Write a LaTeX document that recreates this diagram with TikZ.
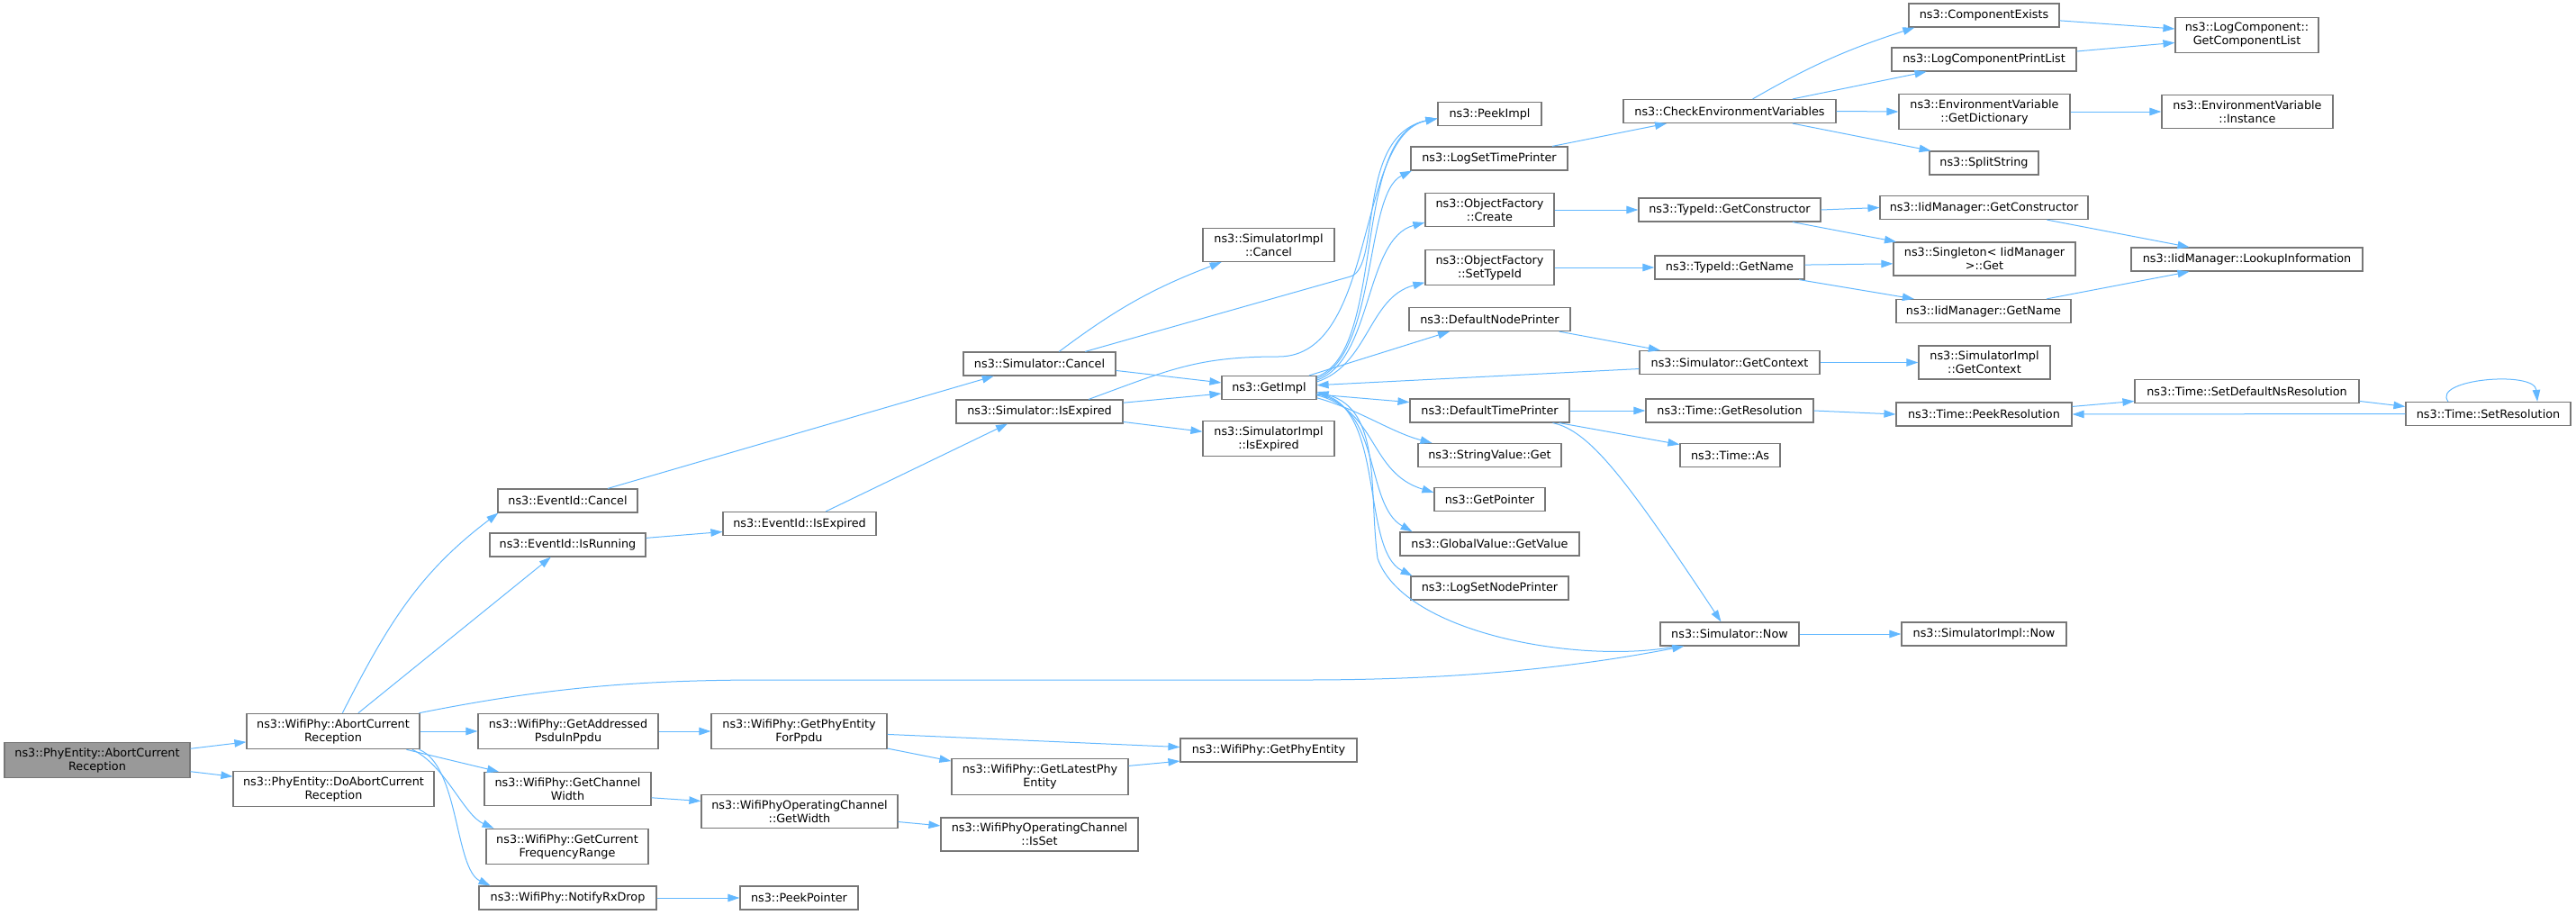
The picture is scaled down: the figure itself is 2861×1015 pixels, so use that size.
\documentclass[tikz,border=0pt]{standalone}
\usepackage{fontspec}
\setmainfont{DejaVu Sans}
\usetikzlibrary{arrows.meta}
\definecolor{edgeblue}{HTML}{63B8FF}
\definecolor{boxgrey}{HTML}{777777}
\definecolor{rootgrey}{HTML}{999999}

\begin{document}
\begin{tikzpicture}[
    x=1pt, y=-1pt,
    fn/.style={draw=boxgrey, line width=1.2pt, fill=white, align=center,
        font=\fontsize{12.8}{15}\selectfont, inner xsep=5pt, inner ysep=6pt,
        minimum height=26pt},
    root/.style={fn, fill=rootgrey},
    edge/.style={draw=edgeblue, line width=1pt, -{Triangle[length=13pt,width=8.5pt]}}
]
    \useasboundingbox (0,0) rectangle (2861,1015);

    \node[root, minimum width=206pt] (root) at (108,844) {ns3::PhyEntity::AbortCurrent\\Reception};
    \node[fn, minimum width=192pt] (wAbort) at (370,812) {ns3::WifiPhy::AbortCurrent\\Reception};
    \node[fn, minimum width=223pt] (doAbort) at (370.5,876) {ns3::PhyEntity::DoAbortCurrent\\Reception};
    \node[fn, minimum width=155pt] (evCancel) at (630.5,556) {ns3::EventId::Cancel};
    \node[fn, minimum width=173pt] (evRunning) at (630.5,605) {ns3::EventId::IsRunning};
    \node[fn, minimum width=170pt] (evExpired) at (888,581.5) {ns3::EventId::IsExpired};
    \node[fn, minimum width=200pt] (addrPsdu) at (631,812) {ns3::WifiPhy::GetAddressed\\PsduInPpdu};
    \node[fn, minimum width=185pt] (chWidth) at (630.5,876) {ns3::WifiPhy::GetChannel\\Width};
    \node[fn, minimum width=180pt] (freqRange) at (630,940) {ns3::WifiPhy::GetCurrent\\FrequencyRange};
    \node[fn, minimum width=197pt] (rxDrop) at (630.5,997) {ns3::WifiPhy::NotifyRxDrop};
    \node[fn, minimum width=195pt] (phyEntPpdu) at (887.5,812) {ns3::WifiPhy::GetPhyEntity\\ForPpdu};
    \node[fn, minimum width=218pt] (opWidth) at (888,901) {ns3::WifiPhyOperatingChannel\\::GetWidth};
    \node[fn, minimum width=131pt] (peekPtr) at (887.5,997) {ns3::PeekPointer};
    \node[fn, minimum width=196pt] (latestPhy) at (1155,862.5) {ns3::WifiPhy::GetLatestPhy\\Entity};
    \node[fn, minimum width=219pt] (isSet) at (1154.5,926.5) {ns3::WifiPhyOperatingChannel\\::IsSet};
    \node[fn, minimum width=196pt] (getPhyEnt) at (1409,833) {ns3::WifiPhy::GetPhyEntity};
    \node[fn, minimum width=169pt] (simCancel) at (1154.5,404) {ns3::Simulator::Cancel};
    \node[fn, minimum width=185pt] (simExpired) at (1154.5,457) {ns3::Simulator::IsExpired};
    \node[fn, minimum width=146pt] (implCancel) at (1409,272) {ns3::SimulatorImpl\\::Cancel};
    \node[fn, minimum width=105pt] (getImpl) at (1409.5,430.5) {ns3::GetImpl};
    \node[fn, minimum width=146pt] (implExpired) at (1409,487) {ns3::SimulatorImpl\\::IsExpired};
    \node[fn, minimum width=115pt] (peekImpl) at (1654.5,126.5) {ns3::PeekImpl};
    \node[fn, minimum width=174pt] (logTime) at (1654,176) {ns3::LogSetTimePrinter};
    \node[fn, minimum width=143pt] (ofCreate) at (1654.5,233) {ns3::ObjectFactory\\::Create};
    \node[fn, minimum width=143pt] (ofSetType) at (1654.5,297) {ns3::ObjectFactory\\::SetTypeId};
    \node[fn, minimum width=179pt] (nodePrinter) at (1654.5,354.5) {ns3::DefaultNodePrinter};
    \node[fn, minimum width=177pt] (timePrinter) at (1654.5,456) {ns3::DefaultTimePrinter};
    \node[fn, minimum width=159pt] (strGet) at (1654.5,505.5) {ns3::StringValue::Get};
    \node[fn, minimum width=123pt] (getPtr) at (1654.5,554.5) {ns3::GetPointer};
    \node[fn, minimum width=199pt] (globalVal) at (1654.5,604) {ns3::GlobalValue::GetValue};
    \node[fn, minimum width=175pt] (logNode) at (1654.5,653) {ns3::LogSetNodePrinter};
    \node[fn, minimum width=236pt] (checkEnv) at (1921,123.5) {ns3::CheckEnvironmentVariables};
    \node[fn, minimum width=202pt] (tidCtor) at (1921,233) {ns3::TypeId::GetConstructor};
    \node[fn, minimum width=166pt] (tidName) at (1921,297) {ns3::TypeId::GetName};
    \node[fn, minimum width=200pt] (simContext) at (1921,402.5) {ns3::Simulator::GetContext};
    \node[fn, minimum width=186pt] (getRes) at (1921,456) {ns3::Time::GetResolution};
    \node[fn, minimum width=111pt] (timeAs) at (1921.5,505.5) {ns3::Time::As};
    \node[fn, minimum width=154pt] (simNow) at (1921,704) {ns3::Simulator::Now};
    \node[fn, minimum width=167pt] (compExists) at (2203.5,17) {ns3::ComponentExists};
    \node[fn, minimum width=205pt] (logPrintList) at (2203.5,66) {ns3::LogComponentPrintList};
    \node[fn, minimum width=190pt] (envDict) at (2204,124) {ns3::EnvironmentVariable\\::GetDictionary};
    \node[fn, minimum width=121pt] (splitStr) at (2203.5,181) {ns3::SplitString};
    \node[fn, minimum width=231pt] (iidCtor) at (2203.5,230.5) {ns3::IidManager::GetConstructor};
    \node[fn, minimum width=202pt] (singleton) at (2204,287.5) {ns3::Singleton< IidManager\\>::Get};
    \node[fn, minimum width=194pt] (iidName) at (2203,345.5) {ns3::IidManager::GetName};
    \node[fn, minimum width=146pt] (implContext) at (2204,402.5) {ns3::SimulatorImpl\\::GetContext};
    \node[fn, minimum width=195pt] (peekRes) at (2203.5,460) {ns3::Time::PeekResolution};
    \node[fn, minimum width=183pt] (implNow) at (2203.5,704) {ns3::SimulatorImpl::Now};
    \node[fn, minimum width=159pt] (getCompList) at (2495.5,39) {ns3::LogComponent::\\GetComponentList};
    \node[fn, minimum width=190pt] (envInst) at (2496,124) {ns3::EnvironmentVariable\\::Instance};
    \node[fn, minimum width=257pt] (lookupInfo) at (2495.5,288) {ns3::IidManager::LookupInformation};
    \node[fn, minimum width=249pt] (setDefRes) at (2495.5,434.5) {ns3::Time::SetDefaultNsResolution};
    \node[fn, minimum width=183pt] (setRes) at (2763.5,459.5) {ns3::Time::SetResolution};

    \draw[edge] (root.7) -- (wAbort.187);
    \draw[edge] (root.353) -- (doAbort.173);
    \draw[edge] (wAbort.63) to[out=63,in=217] (evCancel.190);
    \draw[edge] (wAbort.36) -- (evRunning.216);
    \draw[edge] (wAbort.12) .. controls (600,765) and (700,755) .. (850,755) -- (1450,755)
        .. controls (1650,755) and (1780,735) .. (simNow.195);
    \draw[edge] (wAbort.east) -- (addrPsdu.west);
    \draw[edge] (wAbort.346) -- (chWidth.166);
    \draw[edge] (wAbort.347) .. controls (495,850) and (515,905) .. (freqRange.166);
    \draw[edge] (wAbort.348) .. controls (510,850) and (505,965) .. (rxDrop.171);
    \draw[edge] (evCancel.17) -- (simCancel.195);
    \draw[edge] (evRunning.5) -- (evExpired.186);
    \draw[edge] (evExpired.25) -- (simExpired.201);
    \draw[edge] (simCancel.32) to[bend left=8] (implCancel.200);
    \draw[edge] (simCancel.15) -- (1500,307) .. controls (1535,296) and (1505,150) .. (peekImpl.185);
    \draw[edge] (simCancel.355) -- (getImpl.174);
    \draw[edge] (simExpired.6) -- (getImpl.187);
    \draw[edge] (simExpired.353) -- (implExpired.174);
    \draw[edge] (simExpired.14) .. controls (1300,410) and (1330,396) .. (1420,396)
        .. controls (1530,396) and (1505,150) .. (peekImpl.185);
    \draw[edge] (getImpl.13) .. controls (1540,390) and (1500,150) .. (peekImpl.185);
    \draw[edge] (getImpl.11) .. controls (1530,395) and (1515,215) .. (logTime.189);
    \draw[edge] (getImpl.9) .. controls (1525,400) and (1515,265) .. (ofCreate.191);
    \draw[edge] (getImpl.7) .. controls (1520,405) and (1520,330) .. (ofSetType.193);
    \draw[edge] (getImpl.17) -- (nodePrinter.197);
    \draw[edge] (getImpl.352) -- (timePrinter.174);
    \draw[edge] (getImpl.348) .. controls (1510,455) and (1545,480) .. (strGet.168);
    \draw[edge] (getImpl.351) .. controls (1530,455) and (1520,525) .. (getPtr.173);
    \draw[edge] (getImpl.352) .. controls (1535,450) and (1515,560) .. (globalVal.171);
    \draw[edge] (getImpl.353) .. controls (1540,445) and (1510,610) .. (logNode.171);
    \draw[edge] (simContext.184) -- (getImpl.3);
    \draw[edge] (simNow.193) .. controls (1760,738) and (1560,705) .. (1530,620)
        .. controls (1520,545) and (1535,455) .. (getImpl.355);
    \draw[edge] (nodePrinter.350) -- (simContext.170);
    \draw[edge] (logTime.11) -- (checkEnv.191);
    \draw[edge] (ofCreate.east) -- (tidCtor.west);
    \draw[edge] (ofSetType.east) -- (tidName.west);
    \draw[edge] (simContext.east) -- (implContext.west);
    \draw[edge] (timePrinter.east) -- (getRes.west);
    \draw[edge] (timePrinter.350) -- (timeAs.168);
    \draw[edge] (timePrinter.349) .. controls (1765,478) and (1805,530) .. (simNow.125);
    \draw[edge] (simNow.east) -- (implNow.west);
    \draw[edge] (checkEnv.28) to[out=30,in=198] (compExists.190);
    \draw[edge] (checkEnv.11) -- (logPrintList.192);
    \draw[edge] (checkEnv.east) -- (envDict.west);
    \draw[edge] (checkEnv.349) -- (splitStr.167);
    \draw[edge] (compExists.356) -- (getCompList.175);
    \draw[edge] (logPrintList.5) -- (getCompList.186);
    \draw[edge] (envDict.east) -- (envInst.west);
    \draw[edge] (tidCtor.east) -- (iidCtor.west);
    \draw[edge] (tidCtor.349) -- (singleton.169);
    \draw[edge] (tidName.2) -- (singleton.183);
    \draw[edge] (tidName.350) -- (iidName.170);
    \draw[edge] (iidCtor.349) -- (lookupInfo.168);
    \draw[edge] (iidName.11) -- (lookupInfo.192);
    \draw[edge] (getRes.east) -- (peekRes.west);
    \draw[edge] (peekRes.5) -- (setDefRes.185);
    \draw[edge] (setDefRes.355) -- (setRes.175);
    \draw[edge] (setRes.west) -- (peekRes.east);
    \draw[edge] (setRes.163) .. controls (2700,421) and (2815,411) .. (setRes.14);
    \draw[edge] (addrPsdu.east) -- (phyEntPpdu.west);
    \draw[edge] (phyEntPpdu.358) -- (getPhyEnt.178);
    \draw[edge] (phyEntPpdu.349) -- (latestPhy.170);
    \draw[edge] (latestPhy.7) -- (getPhyEnt.187);
    \draw[edge] (chWidth.354) -- (opWidth.174);
    \draw[edge] (opWidth.354) -- (isSet.175);
    \draw[edge] (rxDrop.east) -- (peekPtr.west);
\end{tikzpicture}
\end{document}
